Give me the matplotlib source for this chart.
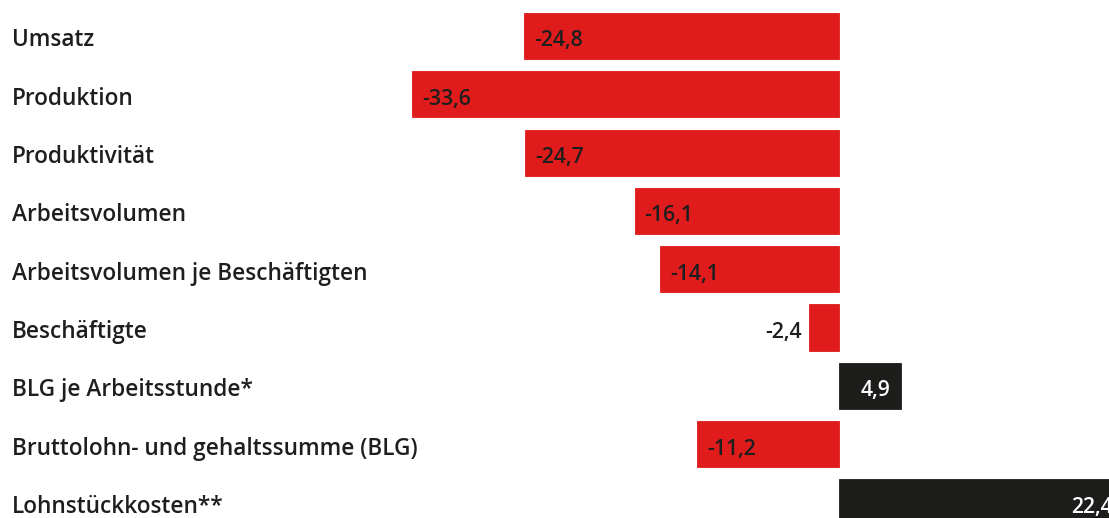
import matplotlib
matplotlib.use("Agg")
import matplotlib.pyplot as plt

categories = ["Umsatz", "Produktion", "Produktivität", "Arbeitsvolumen",
              "Arbeitsvolumen je Beschäftigten", "Beschäftigte",
              "BLG je Arbeitsstunde*", "Bruttolohn- und gehaltssumme (BLG)",
              "Lohnstückkosten**"]
values = [-24.8, -33.6, -24.7, -16.1, -14.1, -2.4, 4.9, -11.2, 22.4]
value_labels = ["-24,8", "-33,6", "-24,7", "-16,1", "-14,1", "-2,4", "4,9", "-11,2", "22,4"]

RED = "#e01b1b"
BLACK = "#1d1d1b"
TEXT = "#1e1e1e"

W, H = 1109, 518
fig = plt.figure(figsize=(W / 100, H / 100), dpi=100)
ax = fig.add_axes([0, 0, 1, 1])

px_per_unit = 12.7
zero_px = 839
row0_px = 36
row_step = 58.3
ax.set_xlim(-zero_px / px_per_unit, (W - zero_px) / px_per_unit)
ax.set_ylim((H - row0_px) / row_step, -row0_px / row_step)
ax.axis("off")

ys = list(range(len(categories)))
colors = [RED if v < 0 else BLACK for v in values]
ax.barh(ys, values, height=0.79, color=colors, edgecolor=colors, linewidth=0.6)

font = dict(family=["Open Sans", "DejaVu Sans"], fontweight="semibold")
base_off = 10.5 / row_step
label_x = -zero_px / px_per_unit + 12 / px_per_unit
for y, c in zip(ys, categories):
    ax.text(label_x, y + base_off, c, ha="left", va="baseline", fontsize=16.3, color=TEXT, **font)

pad = 10 / px_per_unit
for y, v, lab in zip(ys, values, value_labels):
    kw = dict(va="baseline", fontsize=15.3, **font)
    if v < 0 and abs(v) > 6:
        ax.text(v + pad, y + base_off, lab, ha="left", color=TEXT, **kw)
    elif v < 0:
        ax.text(v - 7 / px_per_unit, y + base_off, lab, ha="right", color=TEXT, **kw)
    else:
        ax.text(v - 11 / px_per_unit, y + base_off, lab, ha="right", color="white", **kw)

fig.savefig("out.png", dpi=100, facecolor="white")
